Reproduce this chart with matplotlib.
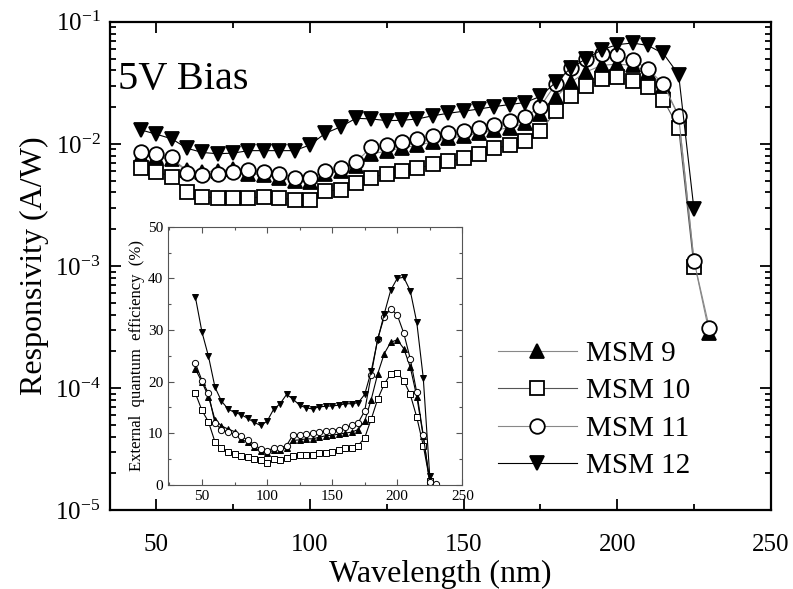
import matplotlib
matplotlib.use('Agg')
import matplotlib.pyplot as plt
from matplotlib.ticker import MultipleLocator, LogLocator, NullFormatter

plt.rcParams['font.family'] = ['Liberation Serif', 'DejaVu Serif']
plt.rcParams['mathtext.fontset'] = 'stix'

# wavelengths (nm)
wl = [45, 50, 55, 60, 65, 70, 75, 80, 85, 90, 95, 100, 105, 110, 115, 120, 125,
      130, 135, 140, 145, 150, 155, 160, 165, 170, 175, 180, 185, 190, 195, 200,
      205, 210, 215, 220, 225, 230]

# responsivity (A/W), main plot
resp_msm9 = [0.0080, 0.0078, 0.0075, 0.0061, 0.0059, 0.0060, 0.0062, 0.0057, 0.0056,
             0.0053, 0.0050, 0.0049, 0.0057, 0.0060, 0.0066, 0.0083, 0.0087, 0.0093,
             0.0097, 0.0104, 0.0111, 0.0116, 0.0122, 0.0129, 0.0136, 0.0147, 0.0174,
             0.024, 0.032, 0.039, 0.044, 0.045, 0.044, 0.039, 0.030, 0.017, 0.0011,
             0.00028]
resp_msm10 = [0.0064, 0.0059, 0.0054, 0.0040, 0.0037, 0.0036, 0.0036, 0.0036, 0.0037,
              0.0036, 0.0035, 0.0035, 0.0041, 0.0042, 0.0048, 0.0053, 0.0057, 0.0060,
              0.0063, 0.0068, 0.0072, 0.0076, 0.0083, 0.0092, 0.0097, 0.0105, 0.0127,
              0.0185, 0.0245, 0.030, 0.034, 0.035, 0.033, 0.029, 0.023, 0.0135, 0.00098]
resp_msm11 = [0.0085, 0.0082, 0.0078, 0.0058, 0.0056, 0.0057, 0.0059, 0.0061, 0.0059,
              0.0057, 0.0053, 0.0053, 0.0060, 0.0063, 0.0071, 0.0094, 0.0097, 0.0103,
              0.0110, 0.0115, 0.0122, 0.0127, 0.0134, 0.0143, 0.0153, 0.0165, 0.0202,
              0.031, 0.042, 0.050, 0.054, 0.053, 0.049, 0.041, 0.031, 0.017, 0.0011,
              0.00031]
resp_msm12 = [0.013, 0.012, 0.011, 0.0092, 0.0085, 0.0083, 0.0084, 0.0088, 0.0088,
              0.0088, 0.0088, 0.0098, 0.0122, 0.0138, 0.0162, 0.016, 0.0155, 0.0156,
              0.016, 0.017, 0.0178, 0.0185, 0.0193, 0.0202, 0.021, 0.0218, 0.0245,
              0.032, 0.042, 0.050, 0.059, 0.065, 0.067, 0.064, 0.055, 0.037, 0.0029]

# external quantum efficiency (%), inset
eqe_msm9 = [22.4, 19.9, 17.1, 12.6, 11.4, 10.8, 10.3, 8.9, 8.2, 7.3, 6.5, 6.1, 6.7,
            6.8, 7.1, 8.6, 8.7, 8.9, 8.9, 9.2, 9.5, 9.6, 9.8, 10.0, 10.2, 10.7, 12.3,
            16.5, 21.5, 25.4, 27.6, 28.1, 26.4, 22.8, 17.1, 9.4, 0.6]
eqe_msm10 = [17.7, 14.4, 12.2, 8.3, 7.1, 6.3, 6.0, 5.6, 5.4, 5.0, 4.7, 4.2, 4.9, 4.7,
             5.2, 5.5, 5.7, 5.7, 5.7, 6.1, 6.1, 6.3, 6.7, 7.1, 7.2, 7.6, 9.1, 12.7,
             16.6, 19.5, 21.5, 21.7, 20.2, 17.5, 13.1, 7.6, 0.8]
eqe_msm11 = [23.5, 20.2, 17.7, 11.9, 10.7, 10.2, 9.8, 9.4, 8.7, 7.8, 6.9, 6.6, 7.1,
             7.1, 7.6, 9.7, 9.7, 9.8, 10.0, 10.2, 10.4, 10.5, 10.7, 11.1, 11.5, 12.0,
             14.3, 21.3, 28.3, 32.5, 34.1, 32.9, 29.4, 24.4, 17.9, 9.6, 0.5, 0.2]
eqe_msm12 = [36.3, 29.6, 24.9, 18.9, 16.2, 14.7, 14.0, 13.6, 12.9, 12.1, 11.5, 12.3,
             14.6, 15.7, 17.5, 16.6, 15.4, 14.9, 14.7, 15.1, 15.2, 15.3, 15.4, 15.7,
             15.7, 15.9, 17.5, 22.0, 28.1, 33.1, 37.7, 40.0, 40.2, 37.6, 31.5, 20.7, 1.6]

labels = ["MSM 9", "MSM 10", "MSM 11", "MSM 12"]
markers = ['^', 's', 'o', 'v']
faces = ['black', 'white', 'white', 'black']
linecols = ['#888888', '#555555', '#888888', 'black']

fig = plt.figure(figsize=(7.93, 5.89), dpi=100)
ax = fig.add_axes([0.139, 0.134, 0.833, 0.829])

resp = [resp_msm9, resp_msm10, resp_msm11, resp_msm12]
for ys, lab, m, fc, lc in zip(resp, labels, markers, faces, linecols):
    ax.plot(wl[:len(ys)], ys, '-', color=lc, lw=0.8, marker=m, ms=10.5,
            mfc=fc, mec='black', mew=1.3, label=lab)

ax.set_yscale('log')
ax.set_xlim(35, 250)
ax.set_ylim(1e-5, 1e-1)
ax.xaxis.set_major_locator(MultipleLocator(50))
ax.xaxis.set_minor_locator(MultipleLocator(25))
ax.yaxis.set_major_locator(LogLocator(base=10))
ax.yaxis.set_minor_locator(LogLocator(base=10, subs=range(2, 10)))
ax.yaxis.set_minor_formatter(NullFormatter())
ax.tick_params(which='both', direction='in', top=True, right=True, labelsize=18, width=1.3)
ax.tick_params(which='major', length=8)
ax.tick_params(which='minor', length=4)
ax.tick_params(axis='x', which='major', pad=17)
ax.tick_params(axis='y', which='major', pad=7)
for s in ax.spines.values():
    s.set_linewidth(1.6)
ax.set_xlabel("Wavelength (nm)", fontsize=23, labelpad=3)
ax.set_ylabel("Responsivity (A/W)", fontsize=23)
ax.text(0.012, 0.862, "5V Bias", transform=ax.transAxes, fontsize=29)

ax.legend(loc='upper left', bbox_to_anchor=(0.628, 0.422), bbox_transform=fig.transFigure,
          frameon=False, fontsize=21, handlelength=2.7, labelspacing=0.38,
          handletextpad=0.3, borderpad=0, borderaxespad=0)

# inset
ins = fig.add_axes([0.212, 0.177, 0.371, 0.438])
eqe = [eqe_msm9, eqe_msm10, eqe_msm11, eqe_msm12]
for ys, m, fc in zip(eqe, markers, faces):
    ins.plot(wl[:len(ys)], ys, '-', color='black', lw=0.8, marker=m, ms=4.5,
             mfc=fc, mec='black', mew=0.7)
ins.set_xlim(24, 250)
ins.set_ylim(0, 50)
ins.xaxis.set_major_locator(MultipleLocator(50))
ins.xaxis.set_minor_locator(MultipleLocator(25))
ins.yaxis.set_major_locator(MultipleLocator(10))
ins.yaxis.set_minor_locator(MultipleLocator(5))
ins.tick_params(which='both', direction='in', top=True, right=True, labelsize=11,
                color='#555555', width=0.8)
ins.tick_params(which='major', length=4)
ins.tick_params(which='minor', length=2.5)
for s in ins.spines.values():
    s.set_color('#555555')
    s.set_linewidth(0.8)
ins.set_ylabel("External  quantum  efficiency  (%)", fontsize=12, labelpad=2)

fig.savefig("out.png", dpi=100)
